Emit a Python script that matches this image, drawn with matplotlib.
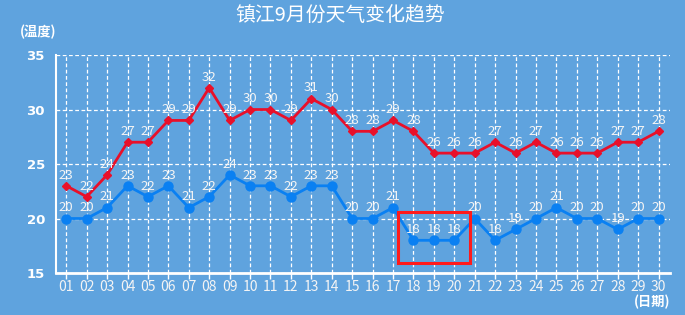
import matplotlib
matplotlib.use("Agg")
import matplotlib.pyplot as plt
from matplotlib.patches import Rectangle

plt.rcParams['font.family'] = ['Noto Sans CJK SC', 'DejaVu Sans']

days = ['01','02','03','04','05','06','07','08','09','10','11','12','13','14','15',
        '16','17','18','19','20','21','22','23','24','25','26','27','28','29','30']
high = [23,22,24,27,27,29,29,32,29,30,30,29,31,30,28,28,29,28,26,26,26,27,26,27,26,26,26,27,27,28]
low = [20,20,21,23,22,23,21,22,24,23,23,22,23,23,20,20,21,18,18,18,20,18,19,20,21,20,20,19,20,20]
yticks = [15, 20, 25, 30, 35]
title = '镇江9月份天气变化趋势'

bg = '#5fa3de'
red = '#e8102a'
blue = '#0a80f2'
txt = '#f4f4f4'

fig = plt.figure(figsize=(6.85, 3.15), dpi=100, facecolor=bg)
ax = fig.add_axes([0.0818, 0.1333, 0.896, 0.692])
ax.set_facecolor(bg)

x = list(range(1, len(days) + 1))
ax.plot(x, high, color=red, lw=2, marker='D', ms=4.5, zorder=4)
ax.plot(x, low, color=blue, lw=2, marker='o', ms=6.5, zorder=4)

for xi, v in zip(x, high):
    ax.annotate(str(v), (xi, v), xytext=(0, 3), textcoords='offset points',
                ha='center', va='bottom', color=txt, fontsize=9.5, zorder=5)
for xi, v in zip(x, low):
    ax.annotate(str(v), (xi, v), xytext=(0, 3), textcoords='offset points',
                ha='center', va='bottom', color=txt, fontsize=9.5, zorder=5)

ax.set_xlim(0.5, 30.55)
ax.set_ylim(15, 35)
ax.set_xticks(x)
ax.set_xticklabels(days, color=txt, fontsize=10)
ax.set_yticks(yticks)
ax.set_yticklabels([str(t) for t in yticks], color='white', fontsize=9.5,
                   fontweight='bold', family='DejaVu Sans')
ax.tick_params(axis='x', length=4, color='white', width=1, pad=1)
ax.tick_params(axis='y', length=0, pad=8)

ax.grid(True, color='white', linestyle=(0, (3, 2)), lw=0.9, zorder=1)
for s in ['top', 'right']:
    ax.spines[s].set_visible(False)
ax.spines['left'].set_color('white')
ax.spines['left'].set_linewidth(1.5)
ax.spines['bottom'].set_color('white')
ax.spines['bottom'].set_linewidth(2)

rect = Rectangle((17.25, 15.95), 3.5, 4.65, fill=False, edgecolor='#ff1a1a', lw=2.2, zorder=6)
ax.add_patch(rect)

fig.text(0.496, 0.952, title, ha='center', va='center', color='white', fontsize=14.3)
fig.text(0.029, 0.898, '(温度)', ha='left', va='center', color='white', fontsize=9.5, fontweight='bold')
fig.text(0.979, 0.04, '(日期)', ha='right', va='center', color='white', fontsize=9.5, fontweight='bold')

fig.savefig('out.png', dpi=100, facecolor=bg)
